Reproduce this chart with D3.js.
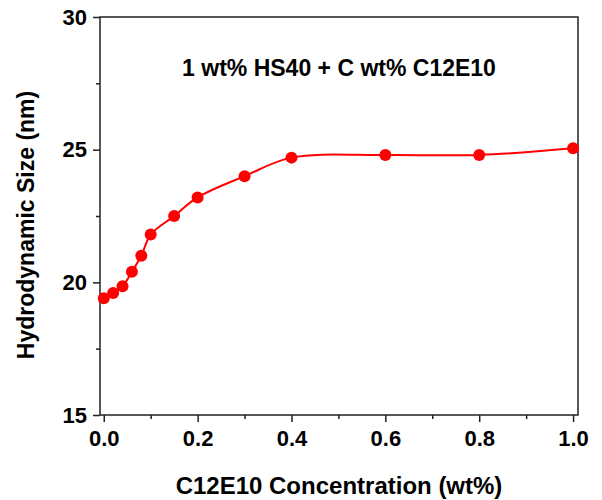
<!DOCTYPE html>
<html>
<head>
<meta charset="utf-8">
<script src="https://cdn.jsdelivr.net/npm/d3@7"></script>
<style>
  body { margin: 0; background: #fff; }
  svg { display: block; font-family: Arial, "Liberation Sans", sans-serif; }
</style>
</head>
<body>
<svg id="chart"></svg>
<script>
// C12E10 concentration (wt%) and hydrodynamic size (nm)
const concentration = [0, 0.02, 0.04, 0.06, 0.08, 0.1, 0.15, 0.2, 0.3, 0.4, 0.6, 0.8, 1.0];
const sizeNm = [19.4, 19.6, 19.85, 20.4, 21.0, 21.8, 22.5, 23.2, 24.0, 24.7, 24.8, 24.8, 25.05];
const xTicks = [0, 0.2, 0.4, 0.6, 0.8, 1.0];
const xMinor = [0.1, 0.3, 0.5, 0.7, 0.9];
const yTicks = [15, 20, 25, 30];
const yMinor = [17.5, 22.5, 27.5];
const titleText = "1 wt% HS40 + C wt% C12E10";

const width = 602;
const height = 500;
const margin = { top: 17, right: 24, bottom: 85, left: 100 };

const svg = d3.select("#chart").attr("width", width).attr("height", height);

const x = d3.scaleLinear()
  .domain([-0.008, 1.0105])
  .range([margin.left, width - margin.right]);

const y = d3.scaleLinear()
  .domain([15, 30])
  .range([height - margin.bottom, margin.top]);

const axisColor = "#222";

// minor ticks
svg.append("g")
  .attr("transform", `translate(0,${height - margin.bottom})`)
  .call(d3.axisBottom(x).tickValues(xMinor).tickSize(4).tickFormat(""))
  .call(g => g.select(".domain").remove())
  .selectAll("line").attr("stroke", axisColor).attr("stroke-width", 1.5);

svg.append("g")
  .attr("transform", `translate(${margin.left},0)`)
  .call(d3.axisLeft(y).tickValues(yMinor).tickSize(4).tickFormat(""))
  .call(g => g.select(".domain").remove())
  .selectAll("line").attr("stroke", axisColor).attr("stroke-width", 1.5);

// major ticks
const xAxis = svg.append("g")
  .attr("transform", `translate(0,${height - margin.bottom})`)
  .call(d3.axisBottom(x).tickValues(xTicks).tickSize(7).tickPadding(8).tickFormat(d3.format(".1f")));
xAxis.select(".domain").remove();
xAxis.selectAll("line").attr("stroke", axisColor).attr("stroke-width", 1.5);
xAxis.selectAll("text")
  .attr("fill", "#000")
  .style("font-size", "22px")
  .style("font-weight", "bold");

const yAxis = svg.append("g")
  .attr("transform", `translate(${margin.left},0)`)
  .call(d3.axisLeft(y).tickValues(yTicks).tickSize(7).tickPadding(6).tickFormat(d3.format("d")));
yAxis.select(".domain").remove();
yAxis.selectAll("line").attr("stroke", axisColor).attr("stroke-width", 1.5);
yAxis.selectAll("text")
  .attr("fill", "#000")
  .style("font-size", "22px")
  .style("font-weight", "bold");

// frame
svg.append("rect")
  .attr("x", margin.left)
  .attr("y", margin.top)
  .attr("width", width - margin.left - margin.right)
  .attr("height", height - margin.top - margin.bottom)
  .attr("fill", "none")
  .attr("stroke", axisColor)
  .attr("stroke-width", 1.5);

// curve + markers
const pts = concentration.map((c, i) => ({ c, s: sizeNm[i] }));

const line = d3.line()
  .x(d => x(d.c))
  .y(d => y(d.s))
  .curve(d3.curveCatmullRom.alpha(0.5));

svg.append("path")
  .datum(pts)
  .attr("fill", "none")
  .attr("stroke", "#ff0000")
  .attr("stroke-width", 2)
  .attr("d", line);

svg.selectAll(".dot")
  .data(pts)
  .enter()
  .append("circle")
  .attr("class", "dot")
  .attr("cx", d => x(d.c))
  .attr("cy", d => y(d.s))
  .attr("r", 6)
  .attr("fill", "#ff0000");

// title inside plot
svg.append("text")
  .attr("x", (margin.left + width - margin.right) / 2)
  .attr("y", 76)
  .attr("text-anchor", "middle")
  .style("font-size", "23px")
  .style("font-weight", "bold")
  .text(titleText);

// axis titles
svg.append("text")
  .attr("x", (margin.left + width - margin.right) / 2)
  .attr("y", 494)
  .attr("text-anchor", "middle")
  .style("font-size", "24px")
  .style("font-weight", "bold")
  .text("C12E10 Concentration (wt%)");

svg.append("text")
  .attr("transform", "translate(34,225) rotate(-90)")
  .attr("text-anchor", "middle")
  .style("font-size", "23px")
  .style("font-weight", "bold")
  .text("Hydrodynamic Size (nm)");
</script>
</body>
</html>
